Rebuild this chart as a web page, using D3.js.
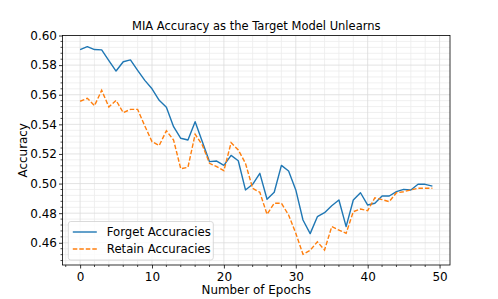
<!DOCTYPE html>
<html>
<head>
<meta charset="utf-8">
<script src="https://cdn.jsdelivr.net/npm/d3@7"></script>
<style>
body { margin: 0; background: #fff; }
svg { font-family: "DejaVu Sans", sans-serif; }
</style>
</head>
<body>
<svg id="chart" width="498" height="299"></svg>
<script>
// epochs and the two accuracy series
var epochs = d3.range(0, 50);
var forgetAcc = [
	0.5905, 0.5925, 0.5905, 0.5903, 0.5830, 0.5760, 0.5823, 0.5835, 0.5765, 0.5697,
	0.5640, 0.5562, 0.5515, 0.5384, 0.5306, 0.5294, 0.5418, 0.5283, 0.5148, 0.5152,
	0.5123, 0.5190, 0.5154, 0.4957, 0.4995, 0.5069, 0.4894, 0.4941, 0.5123, 0.5085,
	0.4957, 0.4754, 0.4662, 0.4776, 0.4803, 0.4850, 0.4889, 0.4709, 0.4889, 0.4938,
	0.4855, 0.4867, 0.4916, 0.4916, 0.4945, 0.4961, 0.4957, 0.4995, 0.4995, 0.4983
];
var retainAcc = [
	0.5556, 0.5576, 0.5526, 0.5630, 0.5517, 0.5562, 0.5479, 0.5501, 0.5501, 0.5389,
	0.5283, 0.5257, 0.5357, 0.5294, 0.5100, 0.5110, 0.5333, 0.5260, 0.5137, 0.5114,
	0.5087, 0.5276, 0.5227, 0.5137, 0.4968, 0.4941, 0.4792, 0.4867, 0.4867, 0.4788,
	0.4664, 0.4522, 0.4549, 0.4607, 0.4551, 0.4709, 0.4686, 0.4664, 0.4810, 0.4828,
	0.4817, 0.4904, 0.4892, 0.4878, 0.4938, 0.4945, 0.4957, 0.4968, 0.4968, 0.4968
];
var seriesNames = ["Forget Accuracies", "Retain Accuracies"];
var xTicks = [0, 10, 20, 30, 40, 50];
var yTicks = [0.46, 0.48, 0.50, 0.52, 0.54, 0.56, 0.58, 0.60];

var _color = { forget: "#1f77b4", retain: "#ff7f0e" };
var DASH = "4.5,2";

var svg = d3.select("#chart"),
	margin = {top: 35.5, right: 48, bottom: 34, left: 62.5},
	width = +svg.attr("width") - margin.left - margin.right,
	height = +svg.attr("height") - margin.top - margin.bottom;

var x = d3.scaleLinear().domain([-2.45, 51.45]).range([0, width]),
	y = d3.scaleLinear().domain([0.445, 0.600]).range([height, 0]);

var g = svg.append("g")
	.attr("transform", "translate(" + margin.left + "," + margin.top + ")");

// minor grid
var xMinor = d3.range(-2, 52, 2).filter(function(d){ return d % 10 !== 0; });
var yMinor = d3.range(0, 40).map(function(i){ return +(0.448 + i * 0.004).toFixed(3); })
	.filter(function(d){ return d <= 0.6 && Math.round(d * 1000) % 20 !== 0; });

g.append("g").selectAll("line").data(xMinor).enter().append("line")
	.attr("x1", function(d){ return x(d); }).attr("x2", function(d){ return x(d); })
	.attr("y1", 0).attr("y2", height)
	.attr("stroke", "#ececec").attr("stroke-width", 0.8);
g.append("g").selectAll("line").data(yMinor).enter().append("line")
	.attr("y1", function(d){ return y(d); }).attr("y2", function(d){ return y(d); })
	.attr("x1", 0).attr("x2", width)
	.attr("stroke", "#ececec").attr("stroke-width", 0.8);

// major grid
g.append("g").selectAll("line").data(xTicks).enter().append("line")
	.attr("x1", function(d){ return x(d); }).attr("x2", function(d){ return x(d); })
	.attr("y1", 0).attr("y2", height)
	.attr("stroke", "#dcdcdc").attr("stroke-width", 0.8);
g.append("g").selectAll("line").data(yTicks).enter().append("line")
	.attr("y1", function(d){ return y(d); }).attr("y2", function(d){ return y(d); })
	.attr("x1", 0).attr("x2", width)
	.attr("stroke", "#dcdcdc").attr("stroke-width", 0.8);

// lines
var line = function(vals){
	return d3.line()
		.x(function(d, i){ return x(epochs[i]); })
		.y(function(d){ return y(d); })(vals);
};

g.append("path").attr("d", line(forgetAcc))
	.attr("fill", "none").attr("stroke", _color.forget).attr("stroke-width", 1.4)
	.attr("stroke-linejoin", "round");
g.append("path").attr("d", line(retainAcc))
	.attr("fill", "none").attr("stroke", _color.retain).attr("stroke-width", 1.4)
	.attr("stroke-dasharray", DASH);

// axes
var xAxis = d3.axisBottom(x).tickValues(xTicks).tickSize(3.5).tickPadding(3.5).tickFormat(d3.format("d"));
var yAxis = d3.axisLeft(y).tickValues(yTicks).tickSize(3.5).tickPadding(2).tickFormat(d3.format(".2f"));

var gx = g.append("g").attr("transform", "translate(0," + height + ")").call(xAxis);
var gy = g.append("g").call(yAxis);

gx.append("g").selectAll("line").data(xMinor).enter().append("line")
	.attr("x1", function(d){ return x(d); }).attr("x2", function(d){ return x(d); })
	.attr("y1", 0).attr("y2", 2).attr("stroke", "#000").attr("stroke-width", 0.7);
gy.append("g").selectAll("line").data(yMinor).enter().append("line")
	.attr("y1", function(d){ return y(d); }).attr("y2", function(d){ return y(d); })
	.attr("x1", 0).attr("x2", -2).attr("stroke", "#000").attr("stroke-width", 0.7);

[gx, gy].forEach(function(a){
	a.select(".domain").remove();
	a.selectAll(".tick line").attr("stroke", "#000").attr("stroke-width", 0.8);
	a.selectAll(".tick text").attr("fill", "#000").style("font-size", "12px")
		.style("font-family", "DejaVu Sans, sans-serif");
});

// frame
g.append("rect").attr("width", width).attr("height", height)
	.attr("fill", "none").attr("stroke", "#000").attr("stroke-width", 0.8);

// labels
svg.append("text").attr("x", margin.left + width / 2).attr("y", 29.5)
	.attr("text-anchor", "middle").style("font-size", "11.5px")
	.text("MIA Accuracy as the Target Model Unlearns");
svg.append("text").attr("x", margin.left + width / 2).attr("y", 294)
	.attr("text-anchor", "middle").style("font-size", "11.9px")
	.text("Number of Epochs");
svg.append("text")
	.attr("transform", "translate(27," + (margin.top + height / 2) + ") rotate(-90)")
	.attr("text-anchor", "middle").style("font-size", "11.9px")
	.text("Accuracy");

// legend
var legend = g.append("g").attr("transform", "translate(5.8," + (height - 43.5) + ")");
legend.append("rect").attr("width", 145).attr("height", 38.5).attr("rx", 2.5)
	.attr("fill", "#fff").attr("fill-opacity", 0.8)
	.attr("stroke", "#d0d0d0").attr("stroke-width", 0.8);
var items = [
	{name: seriesNames[0], color: _color.forget, dash: null},
	{name: seriesNames[1], color: _color.retain, dash: DASH}
];
items.forEach(function(it, i){
	var yy = 10.5 + i * 17;
	legend.append("line").attr("x1", 4.5).attr("x2", 28.5).attr("y1", yy).attr("y2", yy)
		.attr("stroke", it.color).attr("stroke-width", 1.4)
		.attr("stroke-dasharray", it.dash);
	legend.append("text").attr("x", 38.5).attr("y", yy + 4.3)
		.style("font-size", "11.7px").text(it.name);
});
</script>
</body>
</html>
